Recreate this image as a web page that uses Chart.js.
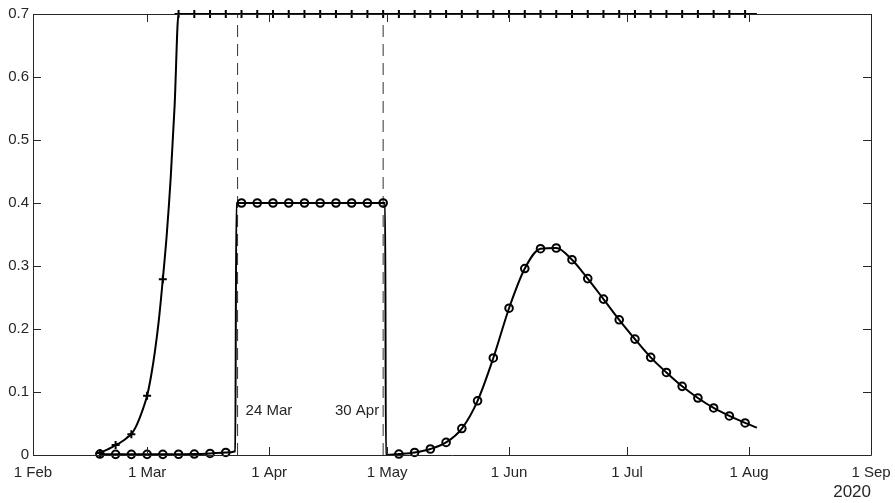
<!DOCTYPE html>
<html>
<head>
<meta charset="utf-8">
<script src="https://cdn.jsdelivr.net/npm/chart.js@4"></script>
<style>
  html, body { margin: 0; padding: 0; background: #fff; }
  #wrap { width: 895px; height: 503px; }
</style>
</head>
<body>
<div id="wrap"><canvas id="chart"></canvas></div>
<script>
// x values are days counted from 1 Feb 2020
const xTickDays = [0, 29, 60, 90, 121, 151, 182, 213];
const xTickLabels = ['1 Feb', '1 Mar', '1 Apr', '1 May', '1 Jun', '1 Jul', '1 Aug', '1 Sep'];

// "+" series: rises fast, then sits at the top of the axis
const caseDays = [17, 18, 19, 20, 21, 22, 23, 24, 25, 26, 27, 28, 29, 30, 31, 32, 33, 34, 35, 36, 37,
  41, 45, 49, 53, 57, 61, 65, 69, 73, 77, 81, 85, 89, 93, 97, 101, 105, 109, 113, 117, 121,
  125, 129, 133, 137, 141, 145, 149, 153, 157, 161, 165, 169, 173, 177, 181, 184];
const caseVals = [0.003, 0.006, 0.009, 0.012, 0.016, 0.019, 0.023, 0.028, 0.033, 0.043, 0.057, 0.074,
  0.094, 0.125, 0.165, 0.215, 0.279, 0.35, 0.44, 0.555, 0.7,
  0.7, 0.7, 0.7, 0.7, 0.7, 0.7, 0.7, 0.7, 0.7, 0.7, 0.7, 0.7, 0.7, 0.7, 0.7, 0.7, 0.7, 0.7, 0.7, 0.7, 0.7,
  0.7, 0.7, 0.7, 0.7, 0.7, 0.7, 0.7, 0.7, 0.7, 0.7, 0.7, 0.7, 0.7, 0.7, 0.7, 0.7];

// "o" series: step up on 24 Mar, down on 30 Apr, then a bump
const rateDays = [17, 21, 25, 29, 33, 37, 41, 45, 49, 51.4, 51.7,
  53, 57, 61, 65, 69, 73, 77, 81, 85, 89, 89.5, 89.7,
  93, 97, 101, 105, 109, 113, 117, 121, 125, 129, 133, 137, 141, 145,
  149, 153, 157, 161, 165, 169, 173, 177, 181, 184];
const rateVals = [0.0015, 0.001, 0.001, 0.001, 0.001, 0.0012, 0.0015, 0.0025, 0.004, 0.006, 0.4,
  0.4, 0.4, 0.4, 0.4, 0.4, 0.4, 0.4, 0.4, 0.4, 0.4, 0.4, 0,
  0.0015, 0.004, 0.0095, 0.02, 0.042, 0.086, 0.154, 0.233, 0.296, 0.3275, 0.3286, 0.31, 0.28, 0.2475,
  0.2146, 0.184, 0.155, 0.131, 0.109, 0.0905, 0.0747, 0.062, 0.0509, 0.0434];

// event lines
const eventDays = [52, 89];
const eventLabels = ['24 Mar', '30 Apr'];

const INK = '#262626';
const FONT = '"Liberation Sans", Arial, Helvetica, sans-serif';

function toPoints(days, vals) {
  return days.map((d, i) => ({ x: d, y: vals[i] }));
}

// markers only every 4th day, as in the original
function markerRadius(r) {
  return ctx => {
    const d = ctx.raw && ctx.raw.x;
    return Number.isInteger(d) && (d - 17) % 4 === 0 && d <= 181 ? r : 0;
  };
}

const eventSets = eventDays.map(d => ({
  data: [{ x: d, y: 0 }, { x: d, y: 0.7 }],
  borderColor: '#333',
  borderWidth: 1,
  borderDash: [12, 7],
  pointRadius: 0,
  fill: false
}));

// box with inward ticks on all four sides
const boxPlugin = {
  id: 'box',
  afterDraw(chart) {
    const { ctx, chartArea: { left, right, top, bottom }, scales: { x, y } } = chart;
    const len = 8;
    ctx.save();
    ctx.strokeStyle = INK;
    ctx.lineWidth = 1;
    ctx.beginPath();
    ctx.rect(left + 0.5, top + 0.5, right - left, bottom - top);
    xTickDays.forEach(v => {
      const px = Math.round(x.getPixelForValue(v)) + 0.5;
      ctx.moveTo(px, bottom); ctx.lineTo(px, bottom - len);
      ctx.moveTo(px, top); ctx.lineTo(px, top + len);
    });
    y.ticks.forEach(t => {
      const py = Math.round(y.getPixelForValue(t.value)) + 0.5;
      ctx.moveTo(left, py); ctx.lineTo(left + len, py);
      ctx.moveTo(right, py); ctx.lineTo(right - len, py);
    });
    ctx.stroke();

    ctx.fillStyle = INK;
    ctx.font = '15px ' + FONT;
    ctx.textBaseline = 'middle';
    const ly = y.getPixelForValue(0.07);
    ctx.textAlign = 'left';
    ctx.fillText(eventLabels[0], x.getPixelForValue(eventDays[0]) + 8, ly);
    ctx.textAlign = 'right';
    ctx.fillText(eventLabels[1], x.getPixelForValue(eventDays[1]) - 4, ly);
    ctx.restore();
  }
};

new Chart(document.getElementById('chart'), {
  type: 'line',
  data: {
    datasets: [
      {
        data: toPoints(caseDays, caseVals),
        borderColor: '#000',
        borderWidth: 2,
        cubicInterpolationMode: 'monotone',
        pointStyle: 'cross',
        pointRadius: markerRadius(4),
        pointBorderWidth: 2,
        pointBorderColor: '#000',
        clip: false
      },
      {
        data: toPoints(rateDays, rateVals),
        borderColor: '#000',
        borderWidth: 2,
        cubicInterpolationMode: 'monotone',
        pointStyle: 'circle',
        pointRadius: markerRadius(3.8),
        pointBorderWidth: 2,
        pointBorderColor: '#000',
        pointBackgroundColor: 'rgba(0,0,0,0)',
        clip: false
      },
      ...eventSets
    ]
  },
  options: {
    responsive: true,
    maintainAspectRatio: false,
    animation: false,
    events: [],
    layout: { padding: { top: 14, right: 24, left: 0, bottom: 0 } },
    plugins: { legend: { display: false }, tooltip: { enabled: false } },
    scales: {
      x: {
        type: 'linear',
        min: 0,
        max: 213,
        afterBuildTicks: scale => { scale.ticks = xTickDays.map(v => ({ value: v })); },
        afterFit: scale => {
          scale.height = 48;
          scale.paddingLeft = 0;
          scale.paddingRight = 0;
        },
        ticks: {
          autoSkip: false,
          maxRotation: 0,
          padding: 9,
          color: INK,
          font: { family: FONT, size: 15 },
          callback: (v) => xTickLabels[xTickDays.indexOf(v)]
        },
        grid: { display: false, drawTicks: false },
        border: { display: false },
        title: {
          display: true,
          text: '2020',
          align: 'end',
          color: INK,
          font: { family: FONT, size: 17 },
          padding: { top: 0, bottom: 0 }
        }
      },
      y: {
        min: 0,
        max: 0.7,
        afterFit: scale => { scale.width = 33; },
        ticks: {
          stepSize: 0.1,
          padding: 4,
          color: INK,
          font: { family: FONT, size: 15 }
        },
        grid: { display: false, drawTicks: false },
        border: { display: false }
      }
    }
  },
  plugins: [boxPlugin]
});
</script>
</body>
</html>
